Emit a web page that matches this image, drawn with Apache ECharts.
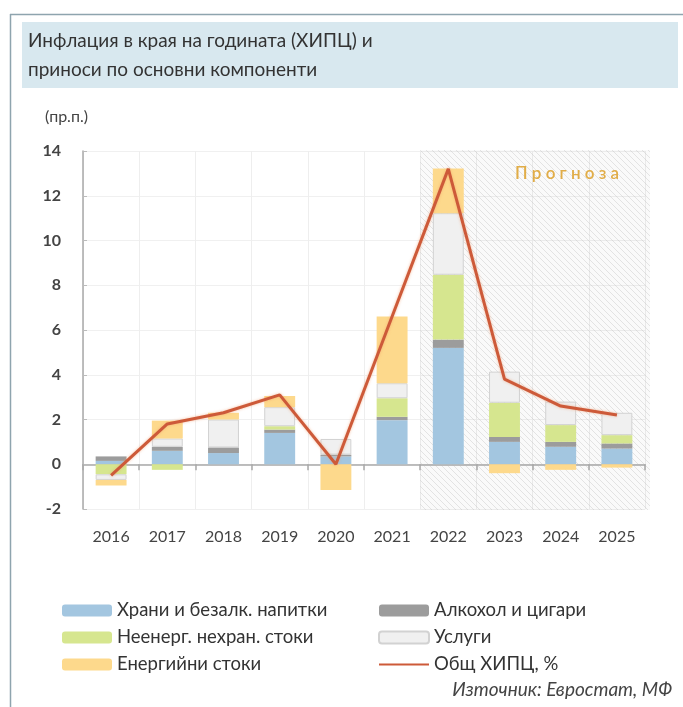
<!DOCTYPE html>
<html>
<head>
<meta charset="utf-8">
<script src="https://cdn.jsdelivr.net/npm/echarts@6/dist/echarts.min.js"></script>
<style>
html,body{margin:0;padding:0;background:#fff;}
#chart{width:683px;height:707px;}
</style>
</head>
<body>
<div id="chart"></div>
<script>
// ---- data ----
var years = ['2016','2017','2018','2019','2020','2021','2022','2023','2024','2025'];
var food      = [0.15, 0.60, 0.50, 1.40, 0.35, 1.97, 5.20, 1.00, 0.78, 0.70];
var alcohol   = [0.20, 0.18, 0.25, 0.15, 0.08, 0.15, 0.37, 0.22, 0.22, 0.23];
var nonEnergy = [-0.45, -0.25, 0.00, 0.15, 0.00, 0.83, 2.90, 1.53, 0.75, 0.37];
var services  = [-0.25, 0.37, 1.25, 0.85, 0.70, 0.67, 2.75, 1.39, 1.05, 1.00];
var energy    = [-0.25, 0.80, 0.30, 0.50, -1.15, 2.98, 2.00, -0.40, -0.25, -0.15];
var hicp      = [-0.5, 1.8, 2.3, 3.1, 0.0, 6.6, 13.2, 3.8, 2.6, 2.2];
var yTicks = {min: -2, max: 14, interval: 2};
var forecastFrom = '2022';

var names = {
  food: 'Храни и безалк. напитки',
  alcohol: 'Алкохол и цигари',
  nonEnergy: 'Неенерг. нехран. стоки',
  services: 'Услуги',
  energy: 'Енергийни стоки',
  hicp: 'Общ ХИПЦ, %'
};

var FONT = 'Lato';
var chart = echarts.init(document.getElementById('chart'), null, {renderer: 'canvas'});

function barSeries(name, data, color, extra) {
  return {
    name: name, type: 'bar', stack: 'total', data: data,
    barWidth: '55%',
    itemStyle: Object.assign({color: color}, extra || {}),
    z: 3
  };
}

// hatch pattern
var pc = document.createElement('canvas');
pc.width = 6; pc.height = 6;
var ctx = pc.getContext('2d');
ctx.fillStyle = 'rgba(120,120,120,0.035)';
ctx.fillRect(0,0,6,6);
ctx.strokeStyle = 'rgba(180,180,180,0.32)';
ctx.lineWidth = 1;
ctx.beginPath();
ctx.moveTo(0,0); ctx.lineTo(6,6);
ctx.moveTo(-3,3); ctx.lineTo(3,9);
ctx.moveTo(3,-3); ctx.lineTo(9,3);
ctx.stroke();

function staticGraphics() {
  return [
    {type: 'line', id: 'bTop', shape: {x1: 10, y1: 14.5, x2: 683, y2: 14.5}, style: {stroke: '#8ea4ae', lineWidth: 1.5}, silent: true},
    {type: 'line', id: 'bLeft', shape: {x1: 10.5, y1: 14, x2: 10.5, y2: 707}, style: {stroke: '#8ea4ae', lineWidth: 1.5}, silent: true},
    {type: 'rect', id: 'tband', shape: {x: 22, y: 22, width: 656, height: 66}, style: {fill: '#d8e8ef'}, silent: true},
    {type: 'text', id: 't1', left: 28, top: 31, style: {text: 'Инфлация в края на годината (ХИПЦ) и', font: '19px ' + FONT, fill: '#333'}},
    {type: 'text', id: 't2', left: 28, top: 60, style: {text: 'приноси по основни компоненти', font: '19px ' + FONT, fill: '#333'}},
    {type: 'text', id: 'unit', left: 45, top: 109, style: {text: '(пр.п.)', font: '16px ' + FONT, fill: '#444'}},
    {type: 'text', id: 'src', right: 11, top: 680, style: {text: 'Източник: Евростат, МФ', font: 'italic 19px ' + FONT, fill: '#444'}}
  ];
}

var legendText = {fontSize: 18.5, color: '#333', fontFamily: FONT};

var option = {
  animation: false,
  backgroundColor: '#fff',
  grid: {left: 83, right: 38, top: 151, bottom: 198, containLabel: false},
  xAxis: [
    {
      type: 'category', data: years, gridIndex: 0,
      axisLine: {onZero: true, lineStyle: {color: '#a9a9a9', width: 1.5}},
      axisTick: {show: true, length: 6, lineStyle: {color: '#a9a9a9', width: 1.5}},
      axisLabel: {show: false},
      splitLine: {show: true, lineStyle: {color: '#eeeeee'}}
    },
    {
      type: 'category', data: years, gridIndex: 0, position: 'bottom',
      axisLine: {show: false, onZero: false}, axisTick: {show: false},
      axisLabel: {margin: 20, fontSize: 16, color: '#444', fontFamily: FONT},
      splitLine: {show: false}
    }
  ],
  yAxis: {
    type: 'value', min: yTicks.min, max: yTicks.max, interval: yTicks.interval,
    axisLine: {show: true, lineStyle: {color: '#a9a9a9', width: 1.5}},
    axisTick: {show: true, inside: true, length: 4, lineStyle: {color: '#bbb'}},
    axisLabel: {margin: 22, fontSize: 16, color: '#444', fontFamily: FONT, fontWeight: 'bold'},
    splitLine: {show: true, lineStyle: {color: '#f0f0f0'}}
  },
  legend: [
    {
      data: [names.food, names.nonEnergy, names.energy],
      orient: 'vertical', left: 57, top: 596, itemWidth: 50, itemHeight: 12, itemGap: 8,
      textStyle: legendText, selectedMode: false
    },
    {
      data: [names.alcohol, names.services,
        {name: names.hicp, itemStyle: {color: 'rgba(0,0,0,0)', borderWidth: 0, opacity: 0}}],
      orient: 'vertical', left: 373, top: 596, itemWidth: 50, itemHeight: 12, itemGap: 8,
      textStyle: legendText, selectedMode: false
    }
  ],
  series: [
    barSeries(names.food, food, '#a3c6e0'),
    barSeries(names.alcohol, alcohol, '#9c9c9c'),
    barSeries(names.nonEnergy, nonEnergy, '#d6e68f'),
    barSeries(names.services, services, '#f0f0f0', {borderColor: '#d2d2d2', borderWidth: 1}),
    barSeries(names.energy, energy, '#fdd98c'),
    {
      name: names.hicp, type: 'line', data: hicp, symbol: 'none',
      lineStyle: {color: '#cd5a39', width: 3, shadowColor: 'rgba(240,150,100,0.6)', shadowBlur: 3},
      itemStyle: {color: '#cd5a39'}, z: 5
    }
  ],
  graphic: staticGraphics()
};
chart.setOption(option);

// forecast shading, computed from the axis scale
var idx = years.indexOf(forecastFrom);
var xPrev = chart.convertToPixel({xAxisIndex: 0}, years[idx - 1]);
var xFirst = chart.convertToPixel({xAxisIndex: 0}, years[idx]);
var xLast = chart.convertToPixel({xAxisIndex: 0}, years[years.length - 1]);
var half = (xFirst - xPrev) / 2;
var x0 = (xPrev + xFirst) / 2;
var x1 = xLast + half + 5;
var yTop = chart.convertToPixel({yAxisIndex: 0}, yTicks.max) - 1;
var yBot = chart.convertToPixel({yAxisIndex: 0}, yTicks.min) + 1;

var g = staticGraphics();
g.push({
  type: 'rect', id: 'fc', z: 1, silent: true,
  shape: {x: x0, y: yTop, width: x1 - x0, height: yBot - yTop},
  style: {fill: {type: 'pattern', image: pc, repeat: 'repeat'}}
});
g.push({
  type: 'text', id: 'fcText', z: 6, x: (x0 + x1) / 2 + 32, y: yTop + 24,
  style: {text: 'П р о г н о з а', font: '600 17px ' + FONT, fill: '#e1ad48', align: 'center', verticalAlign: 'middle'}
});
chart.setOption({graphic: g});
</script>
</body>
</html>
